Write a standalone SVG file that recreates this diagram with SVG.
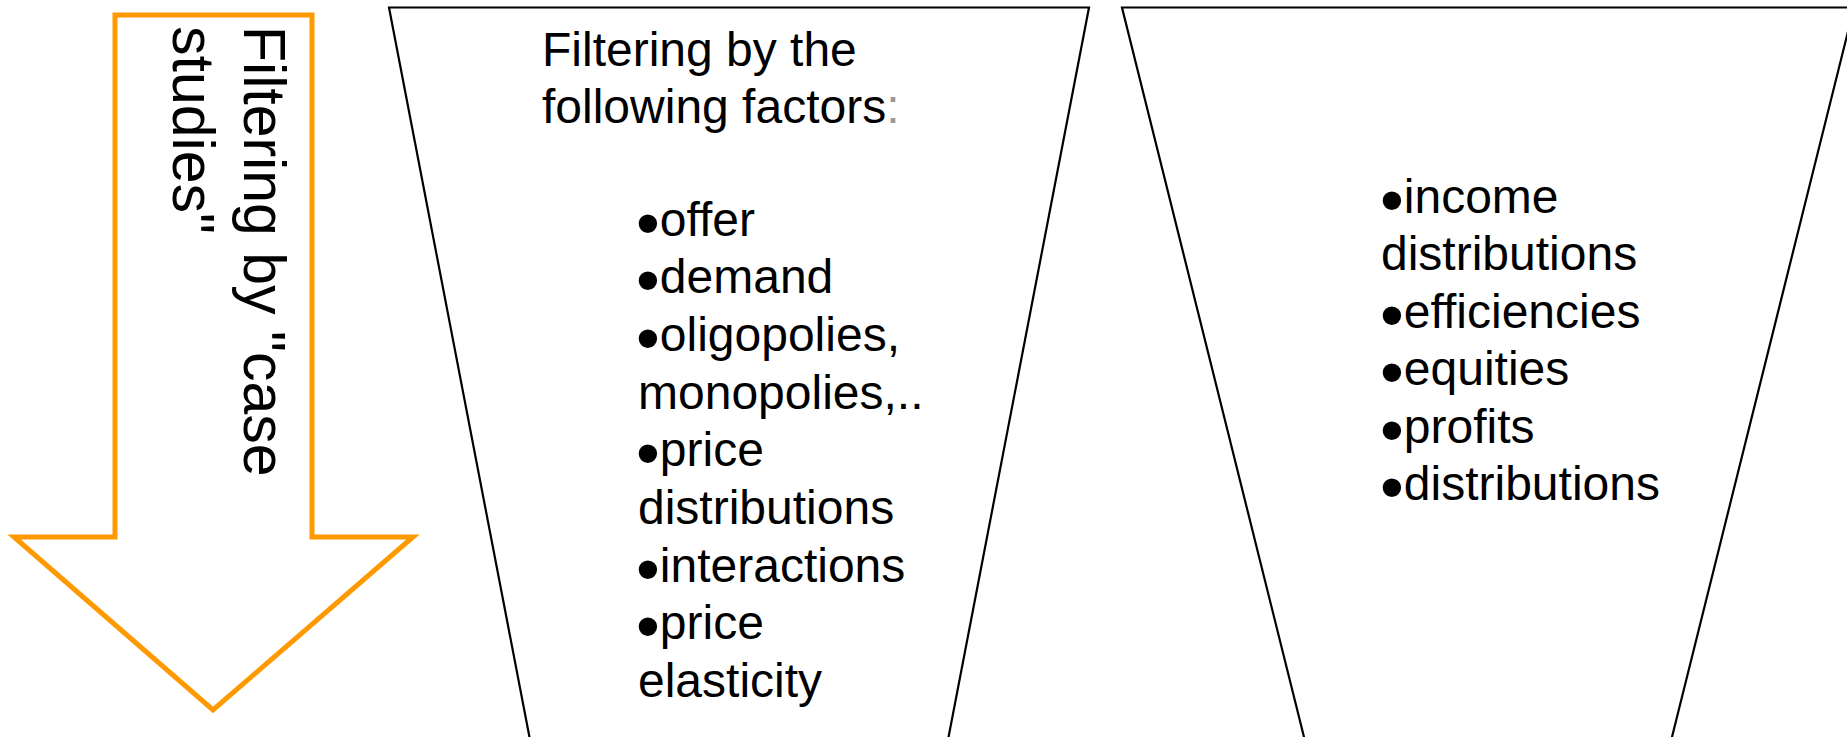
<svg xmlns="http://www.w3.org/2000/svg" width="1847" height="737" viewBox="0 0 1847 737">
<style>
.t{font-family:"Liberation Sans",Arial,sans-serif;font-size:48px;fill:#000}
.b{font-size:68px}
.v{font-family:"Liberation Sans",Arial,sans-serif;font-size:59px;fill:#000}
.funnel{fill:#fff;stroke:#000;stroke-width:2.2}
.arrow{fill:#fff;stroke:#FF9900;stroke-width:5}
</style>
<rect width="1847" height="737" fill="#fff"/>
<g id="arrow">
<polygon class="arrow" points="115,15 312,15 312,537 413,537 213,710 14,537 115,537"/>
<text class="v" transform="translate(244,26) rotate(90)"><tspan x="0" y="0">Filtering by "case</tspan><tspan x="0" y="71">studies"</tspan></text>
</g>
<g id="funnel1">
<path class="funnel" d="M531,745 L389,7.5 L1089,7.5 L947,745"/>
<text class="t"><tspan x="542" y="66">Filtering by the</tspan><tspan x="542" y="123">following factors<tspan fill="#999">:</tspan></tspan></text>
<text class="t">
<tspan x="636" y="245.5" class="b">•</tspan><tspan dy="-10">offer</tspan>
<tspan x="636" y="303.2" class="b">•</tspan><tspan dy="-10">demand</tspan>
<tspan x="636" y="360.9" class="b">•</tspan><tspan dy="-10">oligopolies,</tspan>
<tspan x="638" y="408.6">monopolies,..</tspan>
<tspan x="636" y="476.3" class="b">•</tspan><tspan dy="-10">price</tspan>
<tspan x="638" y="524">distributions</tspan>
<tspan x="636" y="591.7" class="b">•</tspan><tspan dy="-10">interactions</tspan>
<tspan x="636" y="649.4" class="b">•</tspan><tspan dy="-10">price</tspan>
<tspan x="638" y="697.1">elasticity</tspan>
</text>
</g>
<g id="funnel2">
<path class="funnel" d="M1306,745 L1122,7.5 L1854,7.5 L1670,745"/>
<text class="t">
<tspan x="1380" y="222.5" class="b">•</tspan><tspan dy="-10">income</tspan>
<tspan x="1381" y="270">distributions</tspan>
<tspan x="1380" y="337.5" class="b">•</tspan><tspan dy="-10">efficiencies</tspan>
<tspan x="1380" y="395" class="b">•</tspan><tspan dy="-10">equities</tspan>
<tspan x="1380" y="452.5" class="b">•</tspan><tspan dy="-10">profits</tspan>
<tspan x="1380" y="510" class="b">•</tspan><tspan dy="-10">distributions</tspan>
</text>
</g>
<g id="connectors"/>
</svg>
